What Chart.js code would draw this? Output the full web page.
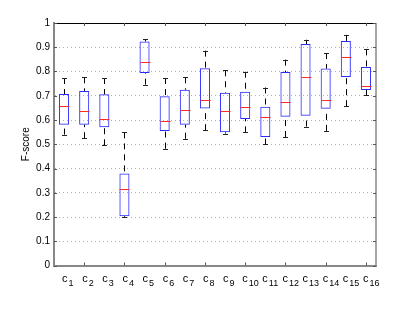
<!DOCTYPE html>
<html>
<head>
<meta charset="utf-8">
<script src="https://cdn.jsdelivr.net/npm/chart.js@4.4.1/dist/chart.umd.min.js"></script>
<style>
  html, body { margin: 0; padding: 0; background: #fff; }
</style>
</head>
<body>
<canvas id="boxChart" width="415" height="311"></canvas>
<script>
const categories = ['c1','c2','c3','c4','c5','c6','c7','c8','c9','c10','c11','c12','c13','c14','c15','c16'];
const lowerWhisker = [0.540, 0.525, 0.496, 0.200, 0.746, 0.482, 0.523, 0.558, 0.544, 0.549, 0.499, 0.530, 0.573, 0.555, 0.657, 0.703];
const q1           = [0.580, 0.580, 0.570, 0.203, 0.794, 0.555, 0.580, 0.647, 0.549, 0.604, 0.530, 0.613, 0.618, 0.646, 0.777, 0.724];
const medians      = [0.657, 0.637, 0.604, 0.316, 0.839, 0.596, 0.643, 0.683, 0.639, 0.654, 0.613, 0.673, 0.776, 0.681, 0.860, 0.742];
const q3           = [0.707, 0.720, 0.706, 0.379, 0.924, 0.698, 0.725, 0.813, 0.712, 0.716, 0.655, 0.798, 0.913, 0.812, 0.926, 0.819];
const upperWhisker = [0.773, 0.776, 0.773, 0.549, 0.934, 0.773, 0.776, 0.886, 0.805, 0.799, 0.734, 0.849, 0.931, 0.876, 0.951, 0.891];

const FONT = 'Liberation Sans, Arial, sans-serif';

// whiskers, medians, frame and subscript labels drawn through the chart scales
const boxExtras = {
  id: 'boxExtras',
  afterDatasetsDraw(chart) {
    const ctx = chart.ctx;
    const x = chart.scales.x, y = chart.scales.y;
    const area = chart.chartArea;
    const bars = chart.getDatasetMeta(0).data;

    ctx.save();
    for (let i = 0; i < categories.length; i++) {
      const cx = Math.round(x.getPixelForValue(i)) + 0.5;
      const half = bars[i].width / 2;
      const capHalf = 2.5;

      // whiskers (dashed)
      ctx.strokeStyle = '#000';
      ctx.lineWidth = 1;
      ctx.setLineDash([6, 5]);
      ctx.beginPath();
      ctx.moveTo(cx, y.getPixelForValue(upperWhisker[i]));
      ctx.lineTo(cx, y.getPixelForValue(q3[i]));
      ctx.moveTo(cx, y.getPixelForValue(lowerWhisker[i]));
      ctx.lineTo(cx, y.getPixelForValue(q1[i]));
      ctx.stroke();

      // caps
      ctx.setLineDash([]);
      ctx.strokeStyle = '#222';
      ctx.beginPath();
      const yu = Math.round(y.getPixelForValue(upperWhisker[i])) + 0.5;
      const yl = Math.round(y.getPixelForValue(lowerWhisker[i])) + 0.5;
      ctx.moveTo(cx - capHalf, yu); ctx.lineTo(cx + capHalf, yu);
      ctx.moveTo(cx - capHalf, yl); ctx.lineTo(cx + capHalf, yl);
      ctx.stroke();

      // median
      ctx.strokeStyle = '#ff2a2a';
      ctx.beginPath();
      const ym = Math.round(y.getPixelForValue(medians[i])) + 0.5;
      ctx.moveTo(cx - half, ym); ctx.lineTo(cx + half, ym);
      ctx.stroke();
    }

    // top and right frame
    ctx.setLineDash([]);
    ctx.lineWidth = 1;
    ctx.strokeStyle = '#000';
    ctx.beginPath();
    ctx.moveTo(area.left, Math.round(area.top) + 0.5);
    ctx.lineTo(area.right, Math.round(area.top) + 0.5);
    ctx.stroke();
    ctx.strokeStyle = '#888';
    ctx.lineWidth = 1.5;
    ctx.beginPath();
    ctx.moveTo(area.right, area.top);
    ctx.lineTo(area.right, area.bottom);
    ctx.stroke();

    // inward tick marks
    ctx.lineWidth = 1;
    ctx.strokeStyle = '#555';
    ctx.beginPath();
    for (let i = 1; i < categories.length; i += 2) {
      const tx = Math.round(x.getPixelForValue(i)) + 0.5;
      ctx.moveTo(tx, area.bottom); ctx.lineTo(tx, area.bottom - 3);
      ctx.moveTo(tx, area.top); ctx.lineTo(tx, area.top + 3);
    }
    y.ticks.forEach(t => {
      const ty = Math.round(y.getPixelForValue(t.value)) + 0.5;
      ctx.moveTo(area.right, ty); ctx.lineTo(area.right - 3, ty);
      ctx.moveTo(area.left, ty); ctx.lineTo(area.left + 3, ty);
    });
    ctx.stroke();

    // category labels: c with subscript index
    ctx.fillStyle = '#000';
    ctx.textBaseline = 'alphabetic';
    ctx.textAlign = 'left';
    categories.forEach((lab, i) => {
      const tx = x.getPixelForValue(i);
      const base = lab.charAt(0), sub = lab.slice(1);
      const left = tx - (sub.length > 1 ? 3 : 2);
      ctx.font = '11px ' + FONT;
      ctx.fillText(base, left, 282);
      const w = ctx.measureText(base).width;
      ctx.font = '9px ' + FONT;
      ctx.fillText(sub, left + w + 1, 286);
    });
    ctx.restore();
  }
};

new Chart(document.getElementById('boxChart'), {
  type: 'bar',
  data: {
    labels: categories,
    datasets: [{
      data: q1.map((v, i) => [v, q3[i]]),
      backgroundColor: 'rgba(0,0,0,0)',
      borderColor: '#2b2bff',
      borderWidth: 1,
      borderSkipped: false,
      barPercentage: 0.5,
      categoryPercentage: 1.0
    }]
  },
  options: {
    responsive: false,
    animation: false,
    layout: { padding: { left: 0, top: 23, right: 39, bottom: 0 } },
    plugins: { legend: { display: false }, tooltip: { enabled: false } },
    scales: {
      x: {
        grid: { display: false },
        border: { color: '#888', width: 2 },
        ticks: { display: false },
        afterFit: s => { s.height = 45.5; }
      },
      y: {
        min: 0,
        max: 1,
        ticks: {
          stepSize: 0.1,
          color: '#000',
          padding: 4,
          font: { family: FONT, size: 10 },
          callback: v => String(+v.toFixed(1))
        },
        grid: { color: '#b0b0b0', lineWidth: 1, drawTicks: false },
        border: { color: '#888', width: 2, dash: [1, 3] },
        title: {
          display: true,
          text: 'F-score',
          color: '#000',
          font: { family: FONT, size: 10 },
          padding: { top: 20, bottom: 0 }
        },
        afterFit: s => { s.width = 54; }
      }
    }
  },
  plugins: [boxExtras]
});
</script>
</body>
</html>
